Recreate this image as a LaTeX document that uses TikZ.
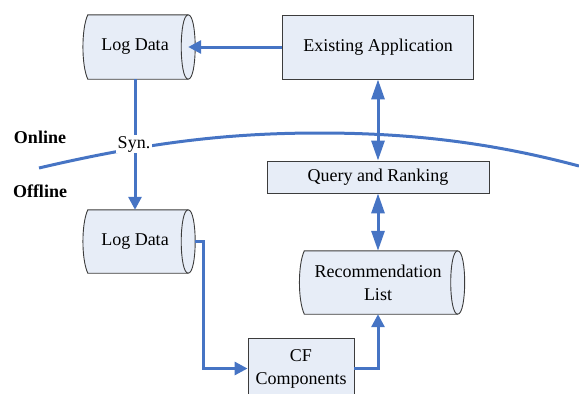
\documentclass[tikz,border=0pt]{standalone}
\usepackage{fontspec}
\setmainfont{Liberation Serif}
\usetikzlibrary{arrows.meta,backgrounds,calc}
\definecolor{boxfill}{RGB}{231,237,247}
\definecolor{boxline}{RGB}{60,60,60}
\definecolor{flow}{RGB}{70,116,196}
\newcommand\drawcyl[1]{%
  \path[cylshape] let \p1=(#1.north west), \p2=(#1.south east) in
    (\x1+6pt,\y1) -- (\x2,\y1) .. controls (\x2+9.3pt,\y1) and (\x2+9.3pt,\y2) .. (\x2,\y2)
    -- (\x1+6pt,\y2) .. controls (\x1-0.5pt,\y2+14pt) and (\x1-0.5pt,\y1-14pt) .. (\x1+6pt,\y1) -- cycle;
  \path[cylline] let \p1=(#1.north west), \p2=(#1.south east) in
    (\x2,\y1) .. controls (\x2-9.3pt,\y1) and (\x2-9.3pt,\y2) .. (\x2,\y2);
}
\begin{document}
\begin{tikzpicture}[x=1pt,y=-1pt,
  font=\fontsize{18}{23}\selectfont,
  box/.style={draw=boxline,fill=boxfill,line width=0.9pt,inner sep=0pt,align=center},
  cylnode/.style={inner sep=0pt,align=center},
  cylshape/.style={draw=boxline,fill=boxfill,line width=0.9pt},
  cylline/.style={draw=boxline,line width=0.9pt},
  flowline/.style={draw=flow,line width=3pt},
  tip/.style={-{Triangle[length=13pt,width=13pt]}},
  dtip/.style={{Triangle[length=20pt,width=13pt]}-{Triangle[length=20pt,width=13pt]}},
  lbl/.style={font=\fontsize{18}{23}\selectfont\bfseries}
]
\useasboundingbox (0,0) rectangle (579,394);

% nodes
\node[cylnode,minimum width=106pt,minimum height=64pt] (log1) at (135,47) {Log Data};
\node[cylnode,minimum width=106pt,minimum height=63pt] (log2) at (135,241.5) {Log Data};
\node[cylnode,minimum width=159pt,minimum height=63pt] (rec) at (378,282.5) {Recommendation\\List};
\node[box,minimum width=191pt,minimum height=64pt] (app) at (378,47) {Existing Application};
\node[box,minimum width=222pt,minimum height=32pt] (query) at (378,177) {Query and Ranking};
\node[box,minimum width=106pt,minimum height=61pt] (cf) at (301,368.5) {CF\\Components};

\begin{pgfonlayer}{background}
  \drawcyl{log1}
  \drawcyl{log2}
  \drawcyl{rec}
\end{pgfonlayer}

% online/offline divider
\draw[flowline] (39,168) .. controls (150,142) and (230,133) .. (320,133)
  .. controls (420,133) and (500,145) .. (579,166);

% connectors
\draw[flowline,tip] (app.west) -- (log1.east);
\draw[flowline,tip] (log1.south) -- (log2.north);
\draw[flowline,dtip] (app.south) -- (query.north);
\draw[flowline,dtip] (query.south) -- (rec.north);
\coordinate (l2out) at ([xshift=7pt]log2.east);
\draw[flowline,tip] (l2out) -- ++(8,0) |- (cf.west);
\draw[flowline,tip] (cf.east) -| (rec.south);

% labels
\node[fill=white,inner sep=1.5pt] (syn) at (134,144) {Syn.};
\node[lbl] (online) at (40,137) {Online};
\node[lbl] (offline) at (40,191) {Offline};
\end{tikzpicture}
\end{document}
